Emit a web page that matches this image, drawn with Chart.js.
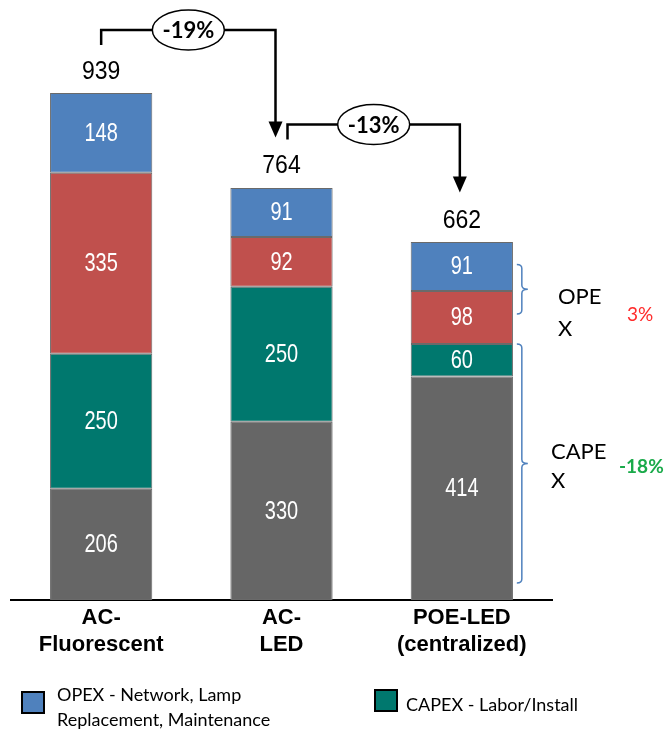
<!DOCTYPE html>
<html><head><meta charset="utf-8">
<script src="https://cdn.jsdelivr.net/npm/chart.js@4/dist/chart.umd.min.js"></script>
<style>html,body{margin:0;padding:0;background:#fff;}#wrap{width:668px;height:730px;position:relative;}</style>
</head><body><div id="wrap"><canvas id="c" width="668" height="730"></canvas></div>
<script>
const categories = [["AC-","Fluorescent"],["AC-","LED"],["POE-LED","(centralized)"]];
const capexEquipment = [206, 330, 414];
const capexLabor = [250, 250, 60];
const opexEnergy = [335, 92, 98];
const opexNetwork = [148, 91, 91];
const totals = [939, 764, 662];
const changeLabels = ["-19%", "-13%"];
const opexChange = "3%";
const capexChange = "-18%";
const legendLabels = [["OPEX - Network, Lamp","Replacement, Maintenance"],["CAPEX - Labor/Install"]];

const C_GRAY="#666666", C_TEAL="#00786e", C_RED="#c0504d", C_BLUE="#4f81bd";

const annot = {
  id:'annot',
  afterDatasetsDraw(chart){
    const ctx=chart.ctx, x=chart.scales.x, y=chart.scales.y;
    ctx.save();
    ctx.textAlign='center'; ctx.textBaseline='middle';
    ctx.font='25px "Liberation Sans", Arial, sans-serif';
    chart.data.datasets.forEach((ds,di)=>{
      const meta=chart.getDatasetMeta(di);
      meta.data.forEach((el,i)=>{
        ctx.save();
        ctx.translate(el.x,(el.y+el.base)/2+1);
        ctx.scale(0.8,1);
        ctx.fillStyle='#ffffff';
        ctx.fillText(String(ds.data[i]),0,0);
        ctx.restore();
      });
    });
    const tops = totals.map(t=>y.getPixelForValue(t));
    const cx = totals.map((t,i)=>x.getPixelForValue(i));
    ctx.fillStyle='#000';
    ctx.font='25px "Liberation Sans", Arial, sans-serif';
    totals.forEach((t,i)=>{
      ctx.save(); ctx.translate(cx[i],tops[i]-21); ctx.scale(0.92,1);
      ctx.fillText(String(t),0,0); ctx.restore();
    });
    ctx.strokeStyle='#000'; ctx.fillStyle='#000'; ctx.lineWidth=2.5;
    for(let k=0;k<2;k++){
      const x0 = k===0 ? cx[0] : cx[1]+6;
      const x1 = k===0 ? cx[1]-6 : cx[2]-2;
      const ys = tops[k]-48, yh = tops[k]-63, yt = tops[k+1]-50;
      ctx.beginPath(); ctx.moveTo(x0,ys); ctx.lineTo(x0,yh); ctx.lineTo(x1,yh); ctx.lineTo(x1,yt-14); ctx.stroke();
      ctx.beginPath(); ctx.moveTo(x1-7,yt-16); ctx.lineTo(x1+7,yt-16); ctx.lineTo(x1,yt); ctx.closePath(); ctx.fill();
      const ex=(x0+x1)/2;
      ctx.beginPath(); ctx.ellipse(ex,yh,36,20,0,0,Math.PI*2); ctx.fillStyle='#fff'; ctx.fill();
      ctx.lineWidth=1.5; ctx.stroke(); ctx.lineWidth=2.5;
      ctx.fillStyle='#000'; ctx.font='bold 22px Lato, "Liberation Sans", sans-serif';
      ctx.fillText(changeLabels[k], ex, yh+1);
    }
    const bx = cx[2]+51+9;
    function brace(top,bot){
      const mid=(top+bot)/2;
      ctx.beginPath();
      ctx.moveTo(bx-5,top); ctx.quadraticCurveTo(bx,top,bx,top+4);
      ctx.lineTo(bx,mid-4); ctx.quadraticCurveTo(bx,mid,bx+6,mid);
      ctx.quadraticCurveTo(bx,mid,bx,mid+4);
      ctx.lineTo(bx,bot-4); ctx.quadraticCurveTo(bx,bot,bx-5,bot);
      ctx.stroke();
    }
    ctx.strokeStyle=C_BLUE; ctx.lineWidth=1.5;
    const capTop = y.getPixelForValue(capexEquipment[2]+capexLabor[2]);
    brace(tops[2]+22, capTop-30);
    brace(capTop, y.getPixelForValue(0)-17);
    ctx.textAlign='left';
    ctx.fillStyle='#000'; ctx.font='22px Lato, "Liberation Sans", sans-serif';
    ctx.fillText("OPE", 558, 297); ctx.fillText("X", 558, 329);
    ctx.fillText("CAPE", 551, 452); ctx.fillText("X", 551, 481);
    ctx.font='19px Lato, "Liberation Sans", sans-serif'; ctx.fillStyle='#ff2a2a';
    ctx.fillText(opexChange, 627, 315);
    ctx.font='bold 19px Lato, "Liberation Sans", sans-serif'; ctx.fillStyle='#1aaa4a';
    ctx.fillText(capexChange, 619, 467);
    ctx.font='18px Lato, "Liberation Sans", sans-serif';
    ctx.lineWidth=2; ctx.strokeStyle='#000';
    ctx.fillStyle=C_BLUE; ctx.fillRect(22,692,22,21); ctx.strokeRect(22,692,22,21);
    ctx.fillStyle=C_TEAL; ctx.fillRect(375,690,22,21); ctx.strokeRect(375,690,22,21);
    ctx.fillStyle='#000';
    ctx.fillText(legendLabels[0][0], 57, 695);
    ctx.fillText(legendLabels[0][1], 57, 720);
    ctx.fillText(legendLabels[1][0], 406, 705);
    ctx.restore();
  }
};

const mk=(label,data,color)=>({label,data,backgroundColor:color,borderColor:'#6a6a6a',borderWidth:1,borderSkipped:false,categoryPercentage:1,barPercentage:0.567});

new Chart(document.getElementById('c'),{
  type:'bar',
  data:{labels:categories,datasets:[
    mk("CAPEX - Equipment",capexEquipment,C_GRAY),
    mk("CAPEX - Labor/Install",capexLabor,C_TEAL),
    mk("OPEX - Energy",opexEnergy,C_RED),
    mk("OPEX - Network, Lamp Replacement, Maintenance",opexNetwork,C_BLUE)
  ]},
  options:{
    responsive:false,animation:false,
    layout:{padding:{left:11,right:116,top:60,bottom:0}},
    plugins:{legend:{display:false},tooltip:{enabled:false}},
    scales:{
      x:{stacked:true,grid:{display:false,drawTicks:false},border:{display:true,color:'#000',width:2},
        ticks:{color:'#000',font:{family:'"Liberation Sans", Arial, sans-serif',size:22,weight:'bold',lineHeight:1.23},padding:4,maxRotation:0,autoSkip:false},
        afterFit(s){s.height=130;}},
      y:{stacked:true,display:false,min:0,max:1000}
    }
  },
  plugins:[annot]
});
</script></body></html>
